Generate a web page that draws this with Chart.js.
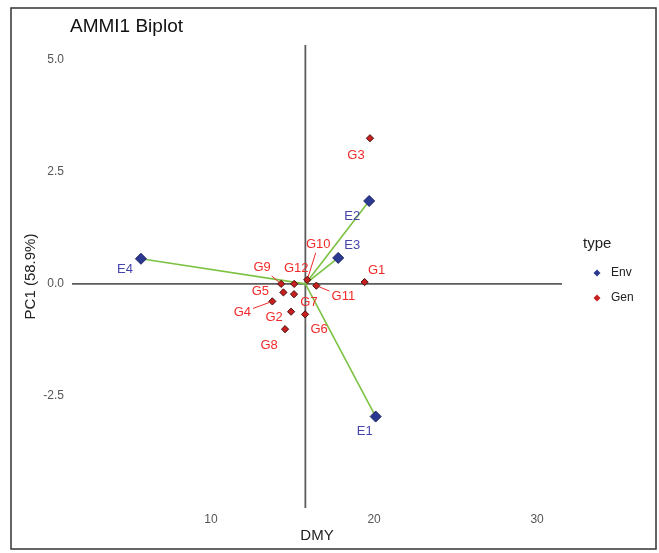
<!DOCTYPE html>
<html>
<head>
<meta charset="utf-8">
<script src="https://cdn.jsdelivr.net/npm/chart.js@4.4.1/dist/chart.umd.min.js"></script>
<style>
  body { margin: 0; background: #fff; }
  #wrap { width: 659px; height: 553px; }
</style>
</head>
<body>
<div id="wrap"><canvas id="biplot" width="659" height="553"></canvas></div>
<script>
// environments
const envNames = ['E1', 'E2', 'E3', 'E4'];
const envDMY = [20.1, 19.7, 17.8, 5.7];
const envPC1 = [-2.96, 1.85, 0.58, 0.56];

// genotypes
const genNames = ['G1', 'G2', 'G3', 'G4', 'G5', 'G6', 'G7', 'G8', 'G9', 'G10', 'G11', 'G12'];
const genDMY = [19.42, 14.91, 19.75, 13.76, 14.44, 15.77, 15.09, 14.54, 14.3, 15.9, 16.46, 15.1];
const genPC1 = [0.04, -0.62, 3.25, -0.39, -0.19, -0.68, -0.23, -1.01, 0.0, 0.09, -0.04, 0.0];

const xTicks = [10, 20, 30];
const yTicks = [-2.5, 0, 2.5, 5];

// label placement (pixels, like ggrepel) and which ones get a leader segment
const labelShift = {
  E1: [-11, 15], E2: [-17, 15], E3: [14, -12], E4: [-16, 11],
  G1: [12, -12], G2: [-17, 6], G3: [-14, 17], G4: [-30, 11],
  G5: [-23, -1], G6: [14, 15], G7: [15, 8], G8: [-16, 16],
  G9: [-19, -16], G10: [11, -35], G11: [27, 11], G12: [2, -15]
};
const leaders = ['G4', 'G9', 'G10', 'G11'];

const grandMean = genDMY.reduce((a, b) => a + b, 0) / genDMY.length;

const envColor = '#2b3990';
const genColor = '#c8201f';
const envText = '#4444aa';
const genText = '#f02a2a';

const vectorSets = envNames.map((n, i) => ({
  type: 'line',
  label: n + ' vector',
  data: [{x: grandMean, y: 0}, {x: envDMY[i], y: envPC1[i]}],
  borderColor: '#7cc242',
  borderWidth: 1.6,
  pointRadius: 0,
  fill: false,
  order: 3
}));

const refLines = {
  id: 'refLines',
  beforeDatasetsDraw(chart) {
    const {ctx, chartArea: a, scales: {x, y}} = chart;
    ctx.save();
    ctx.strokeStyle = '#5c5c5c';
    ctx.lineWidth = 1.8;
    ctx.beginPath();
    const y0 = y.getPixelForValue(0);
    ctx.moveTo(a.left, y0); ctx.lineTo(a.right, y0);
    const xm = x.getPixelForValue(grandMean);
    ctx.moveTo(xm, a.top); ctx.lineTo(xm, a.bottom);
    ctx.stroke();
    ctx.restore();
  }
};

const decorations = {
  id: 'decorations',
  beforeDraw(chart) {
    const ctx = chart.ctx;
    ctx.save();
    ctx.fillStyle = '#fff';
    ctx.fillRect(0, 0, chart.width, chart.height);
    ctx.strokeStyle = '#333';
    ctx.lineWidth = 1.5;
    ctx.strokeRect(11, 8, 645, 541);
    ctx.restore();
  },
  afterDatasetsDraw(chart) {
    const {ctx, chartArea: a} = chart;
    ctx.save();
    ctx.font = '13px "Liberation Sans", Arial, sans-serif';
    ctx.textAlign = 'center';
    ctx.textBaseline = 'middle';
    [0, 1].forEach(di => {
      const meta = chart.getDatasetMeta(di);
      const names = di === 0 ? envNames : genNames;
      ctx.fillStyle = di === 0 ? envText : genText;
      ctx.strokeStyle = genText;
      meta.data.forEach((pt, i) => {
        const n = names[i];
        const [dx, dy] = labelShift[n];
        const lx = pt.x + dx, ly = pt.y + dy;
        if (leaders.includes(n)) {
          const w = ctx.measureText(n).width / 2 + 2, h = 8;
          const tx = Math.min(w / Math.abs(dx || 1e-6), h / Math.abs(dy || 1e-6));
          const ex = lx - dx * tx, ey = ly - dy * tx;
          const len = Math.hypot(dx, dy);
          const sx = pt.x + dx * 3 / len, sy = pt.y + dy * 3 / len;
          ctx.lineWidth = 1;
          ctx.beginPath();
          ctx.moveTo(sx, sy); ctx.lineTo(ex, ey);
          ctx.stroke();
        }
        ctx.fillText(n, lx, ly);
      });
    });
    ctx.restore();
  },
  afterDraw(chart) {
    const {ctx, chartArea: a} = chart;
    ctx.save();
    ctx.fillStyle = '#111';
    ctx.font = '19px "Liberation Sans", Arial, sans-serif';
    ctx.textBaseline = 'middle';
    ctx.textAlign = 'left';
    ctx.fillText('AMMI1 Biplot', a.left - 2, 27);

    // legend
    ctx.fillStyle = '#222';
    ctx.font = '15px "Liberation Sans", Arial, sans-serif';
    ctx.fillText('type', 583, 244);
    ctx.font = '12px "Liberation Sans", Arial, sans-serif';
    chart.data.datasets.slice(0, 2).forEach((ds, i) => {
      const cy = 273 + i * 25;
      ctx.beginPath();
      ctx.moveTo(597, cy - 3.5); ctx.lineTo(600.5, cy);
      ctx.lineTo(597, cy + 3.5); ctx.lineTo(593.5, cy);
      ctx.closePath();
      ctx.fillStyle = ds.backgroundColor;
      ctx.fill();
      ctx.fillStyle = '#222';
      ctx.fillText(ds.label, 611, cy);
    });
    ctx.restore();
  }
};

const tickFont = {family: '"Liberation Sans", Arial, sans-serif', size: 12};
const titleFont = {family: '"Liberation Sans", Arial, sans-serif', size: 15};

new Chart(document.getElementById('biplot'), {
  type: 'scatter',
  data: {
    datasets: [
      {
        label: 'Env',
        data: envNames.map((n, i) => ({x: envDMY[i], y: envPC1[i]})),
        pointStyle: 'rectRot',
        pointRadius: 5.5,
        backgroundColor: envColor,
        borderColor: '#1c2466',
        borderWidth: 1,
        order: 1
      },
      {
        label: 'Gen',
        data: genNames.map((n, i) => ({x: genDMY[i], y: genPC1[i]})),
        pointStyle: 'rectRot',
        pointRadius: 3.6,
        backgroundColor: genColor,
        borderColor: '#4a1010',
        borderWidth: 1,
        order: 2
      },
      ...vectorSets
    ]
  },
  options: {
    responsive: false,
    animation: false,
    layout: {padding: {left: 12, right: 97, top: 45, bottom: 5}},
    plugins: {
      legend: {display: false},
      title: {display: false},
      tooltip: {enabled: false}
    },
    scales: {
      x: {
        type: 'linear',
        min: 1.47,
        max: 31.53,
        afterFit: s => { s.height = 40; },
        afterBuildTicks: s => { s.ticks = xTicks.map(v => ({value: v})); },
        grid: {display: false, drawTicks: false},
        border: {display: false},
        ticks: {font: tickFont, color: '#555', padding: 4},
        title: {display: true, text: 'DMY', font: titleFont, color: '#222', padding: {top: 0, bottom: 3}}
      },
      y: {
        type: 'linear',
        min: -5.0,
        max: 5.33,
        afterFit: s => { s.width = 60; },
        afterBuildTicks: s => { s.ticks = yTicks.map(v => ({value: v})); },
        grid: {display: false, drawTicks: false},
        border: {display: false},
        ticks: {font: tickFont, color: '#555', padding: 8, callback: v => v.toFixed(1)},
        title: {display: true, text: 'PC1 (58.9%)', font: titleFont, color: '#222', padding: {top: 10, bottom: 0}}
      }
    }
  },
  plugins: [decorations, refLines]
});
</script>
</body>
</html>
